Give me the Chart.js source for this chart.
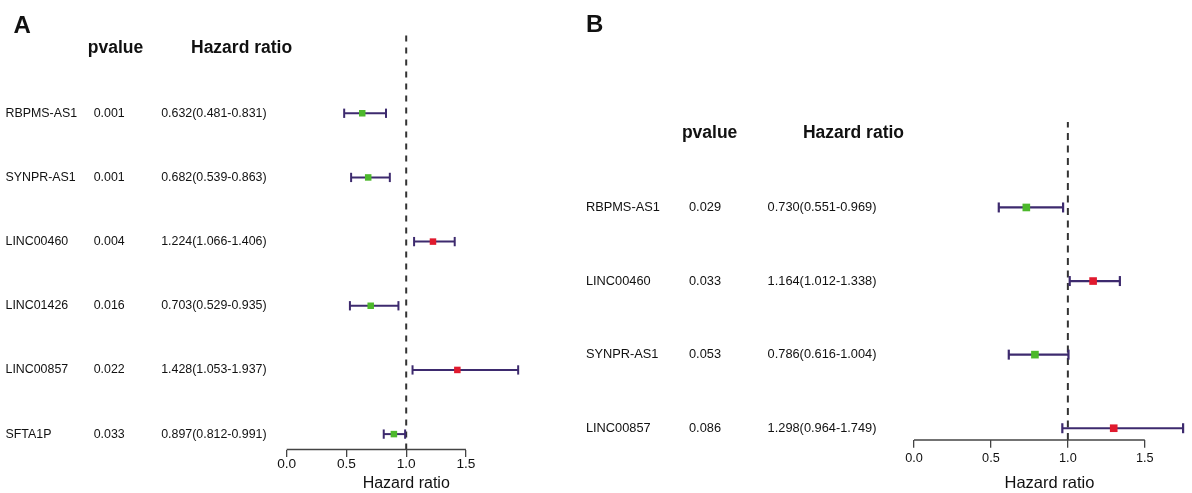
<!DOCTYPE html>
<html>
<head>
<meta charset="utf-8">
<script src="https://cdn.jsdelivr.net/npm/chart.js@4.4.1/dist/chart.umd.min.js"></script>
<style>
html, body { margin: 0; padding: 0; background: #fff; }
#wrap { position: relative; width: 1192px; height: 493px; overflow: hidden; background: #fff; }
#wrap canvas { position: absolute; top: 0; }
#cA { left: 0; }
#cB { left: 570px; }
</style>
</head>
<body>
<div id="wrap">
  <canvas id="cA" width="570" height="493"></canvas>
  <canvas id="cB" width="622" height="493"></canvas>
</div>
<script>
// ---------- Panel A data ----------
const genesA = ['RBPMS-AS1', 'SYNPR-AS1', 'LINC00460', 'LINC01426', 'LINC00857', 'SFTA1P'];
const pvalA  = ['0.001', '0.001', '0.004', '0.016', '0.022', '0.033'];
const hrA    = [0.632, 0.682, 1.224, 0.703, 1.428, 0.897];
const lowA   = [0.481, 0.539, 1.066, 0.529, 1.053, 0.812];
const highA  = [0.831, 0.863, 1.406, 0.935, 1.937, 0.991];

// ---------- Panel B data ----------
const genesB = ['RBPMS-AS1', 'LINC00460', 'SYNPR-AS1', 'LINC00857'];
const pvalB  = ['0.029', '0.033', '0.053', '0.086'];
const hrB    = [0.730, 1.164, 0.786, 1.298];
const lowB   = [0.551, 1.012, 0.616, 0.964];
const highB  = [0.969, 1.338, 1.004, 1.749];

// ---------- shared ----------
const xTickValues = [0, 0.5, 1.0, 1.5];
const refHR = 1;
const headerP = 'pvalue';
const headerHR = 'Hazard ratio';
const axisTitle = 'Hazard ratio';

const FONT = '"Liberation Sans", Arial, Helvetica, sans-serif';
Chart.defaults.font.family = FONT;

const GREEN = '#4db82c';
const RED = '#e01a2e';
const PURPLE = '#3d2a6e';
const INK = '#111111';

const forestDecor = {
  id: 'forestDecor',
  afterDraw(chart, args, o) {
    const ctx = chart.ctx;
    const xs = chart.scales.x, ys = chart.scales.y, yp = chart.scales.yP, yh = chart.scales.yH;
    const ca = chart.chartArea;
    ctx.save();
    // axis line spanning first..last tick
    const t = xs.ticks;
    ctx.strokeStyle = '#444';
    ctx.lineWidth = o.axisW;
    ctx.beginPath();
    ctx.moveTo(xs.getPixelForValue(t[0].value), ca.bottom);
    ctx.lineTo(xs.getPixelForValue(t[t.length - 1].value), ca.bottom);
    ctx.stroke();
    // column headers on row n+1
    ctx.fillStyle = INK;
    ctx.textAlign = 'left';
    ctx.textBaseline = 'alphabetic';
    ctx.font = 'bold ' + o.headSize + 'px ' + FONT;
    const hy = ys.getPixelForValue(o.n + 1) + o.headDy;
    ctx.fillText(headerP, yp.left + o.pOff, hy);
    ctx.fillText(headerHR, yh.left + o.hOff, hy);
    // panel letter
    ctx.font = 'bold ' + o.letterSize + 'px ' + FONT;
    ctx.fillText(o.letter, o.letterX, o.letterY);
    ctx.restore();
  }
};

function buildForest(canvasId, d, L) {
  const n = d.genes.length;
  const rowY = d.genes.map((_, i) => n - i);
  const hrText = d.hr.map((v, i) => v.toFixed(3) + '(' + d.low[i].toFixed(3) + '-' + d.high[i].toFixed(3) + ')');
  const idx = v => Math.round(n - v);

  const datasets = [];
  datasets.push({
    type: 'line',
    data: [{ x: refHR, y: L.yMin }, { x: refHR, y: L.yMax }],
    borderColor: '#333',
    borderWidth: L.dashW,
    borderDash: L.dash,
    pointRadius: 0,
    clip: false,
    order: 3
  });
  d.hr.forEach((v, i) => {
    datasets.push({
      type: 'line',
      data: [{ x: d.low[i], y: rowY[i] }, { x: d.high[i], y: rowY[i] }],
      borderColor: PURPLE,
      borderWidth: L.barW,
      pointStyle: 'line',
      pointRotation: 90,
      pointRadius: L.capR,
      pointBorderColor: PURPLE,
      pointBorderWidth: L.barW,
      clip: false,
      order: 2
    });
  });
  datasets.push({
    type: 'scatter',
    data: d.hr.map((v, i) => ({ x: v, y: rowY[i] })),
    pointStyle: 'rect',
    pointRadius: L.sqR,
    pointBackgroundColor: d.hr.map(v => (v > refHR ? RED : GREEN)),
    pointBorderWidth: 0,
    clip: false,
    order: 1
  });

  const rowAxis = (weight, width, labels) => ({
    type: 'linear',
    position: 'left',
    weight: weight,
    min: L.yMin,
    max: L.yMax,
    afterBuildTicks: s => { s.ticks = rowY.map(v => ({ value: v })); },
    ticks: {
      callback: v => labels[idx(v)],
      crossAlign: 'far',
      padding: 0,
      autoSkip: false,
      color: INK,
      font: { size: L.rowSize }
    },
    grid: { display: false },
    border: { display: false },
    afterFit: s => { s.width = width; }
  });

  return new Chart(document.getElementById(canvasId), {
    type: 'line',
    data: { datasets },
    options: {
      responsive: false,
      maintainAspectRatio: false,
      devicePixelRatio: 1,
      animation: false,
      events: [],
      layout: { padding: { left: L.padL, right: L.padR, top: L.padT, bottom: 0 } },
      plugins: {
        legend: { display: false },
        tooltip: { enabled: false },
        forestDecor: {
          n: n, headSize: L.headSize, headDy: L.headDy, pOff: L.pOff, hOff: L.hOff,
          letter: L.letter, letterSize: 24, letterX: L.letterX, letterY: L.letterY, axisW: 1.3
        }
      },
      scales: {
        x: {
          type: 'linear',
          position: 'bottom',
          min: 0,
          max: L.xMax,
          afterBuildTicks: s => { s.ticks = xTickValues.map(v => ({ value: v })); },
          ticks: {
            callback: v => Number(v).toFixed(1),
            autoSkip: false,
            maxRotation: 0,
            padding: L.tickPad,
            color: INK,
            font: { size: L.tickSize }
          },
          grid: { display: true, drawOnChartArea: false, drawTicks: true, tickLength: L.tickLen, color: '#444', lineWidth: 1.3 },
          border: { display: false },
          title: { display: true, text: axisTitle, color: INK, font: { size: L.titleSize }, padding: { top: 0, bottom: 0 } },
          afterFit: s => { s.height = L.xH; }
        },
        y: rowAxis(3, L.wGene, d.genes),
        yP: rowAxis(2, L.wP, d.pval),
        yH: rowAxis(1, L.wH, hrText)
      }
    },
    plugins: [forestDecor]
  });
}

buildForest('cA',
  { genes: genesA, pval: pvalA, hr: hrA, low: lowA, high: highA },
  {
    padL: 5.5, wGene: 88.2, wP: 67.5, wH: 125.5, padR: 44.3, padT: 33.7,
    xMax: 2.0, yMin: 0.76, yMax: 7.24, xH: 43.5,
    tickLen: 7.5, tickPad: -0.9, tickSize: 13.7, titleSize: 16,
    rowSize: 12.4, headSize: 17.5, headDy: 4, pOff: -5.9, hOff: 29.8,
    letter: 'A', letterX: 13.5, letterY: 32.7,
    capR: 4.65, sqR: 4.6, barW: 2, dash: [6, 6], dashW: 2
  });

buildForest('cB',
  { genes: genesB, pval: pvalB, hr: hrB, low: lowB, high: highB },
  {
    padL: 15.9, wGene: 103.1, wP: 78.6, wH: 146.4, padR: 4.7, padT: 122.1,
    xMax: 1.76, yMin: 0.84, yMax: 5.16, xH: 53,
    tickLen: 7.7, tickPad: 3.2, tickSize: 12.7, titleSize: 16.5,
    rowSize: 12.8, headSize: 17.5, headDy: 4, pOff: -7.1, hOff: 35.3,
    letter: 'B', letterX: 16, letterY: 31.7,
    capR: 5, sqR: 5.4, barW: 2.2, dash: [7, 5.5], dashW: 2
  });
</script>
</body>
</html>
